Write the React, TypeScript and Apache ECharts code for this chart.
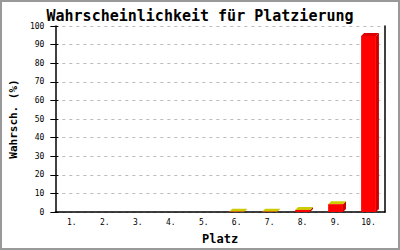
import React, { useEffect, useRef } from "react";
import * as echarts from "echarts";

const categories = ["1.", "2.", "3.", "4.", "5.", "6.", "7.", "8.", "9.", "10."];
const probabilities = [0, 0, 0, 0, 0, 0.2, 0.2, 1.1, 4.2, 94.6];
const yTicks = { min: 0, max: 100, interval: 10 };

const FONT = "DejaVu Sans Mono";

export default function App() {
  const ref = useRef<HTMLDivElement>(null);
  useEffect(() => {
    if (!ref.current) return;
    const chart = echarts.init(ref.current, null, { renderer: "svg" });
    const yBase = {
      type: "value",
      min: yTicks.min,
      max: yTicks.max,
      interval: yTicks.interval,
    };
    chart.setOption({
      animation: false,
      backgroundColor: "#fff",
      title: {
        text: "Wahrscheinlichkeit für Platzierung",
        left: "center",
        top: 3,
        textStyle: { fontFamily: FONT, fontWeight: "bold", fontSize: 15, color: "#000" },
      },
      grid: { left: 48, right: 15, top: 26, bottom: 37 },
      xAxis: {
        type: "category",
        data: categories,
        name: "Platz",
        nameLocation: "middle",
        nameGap: 21,
        nameTextStyle: { fontFamily: FONT, fontWeight: "bold", fontSize: 12, color: "#000" },
        axisLine: { lineStyle: { color: "#000", width: 1.5 } },
        axisTick: { show: false },
        axisLabel: { fontFamily: FONT, fontSize: 8, color: "#000", margin: 6 },
      },
      yAxis: [
        {
          ...yBase,
          name: "Wahrsch. (%)",
          nameLocation: "middle",
          nameGap: 31,
          nameTextStyle: { fontFamily: FONT, fontWeight: "bold", fontSize: 11, color: "#000" },
          axisLine: { show: true, lineStyle: { color: "#000", width: 1.5 } },
          axisTick: { show: true, length: 5, lineStyle: { color: "#000" } },
          axisLabel: { fontFamily: FONT, fontSize: 8, color: "#000", margin: 11 },
          splitLine: { show: true, lineStyle: { color: "#bbb", type: [3, 4], width: 1 } },
        },
        {
          ...yBase,
          position: "left",
          axisLine: { show: false },
          axisTick: { show: true, inside: true, length: 3, lineStyle: { color: "#000" } },
          axisLabel: { show: false },
          splitLine: { show: false },
        },
        {
          ...yBase,
          position: "right",
          axisLine: { show: true, lineStyle: { color: "#000", width: 1.5 } },
          axisTick: { show: false },
          axisLabel: { show: false },
          splitLine: { show: false },
        },
      ],
      graphic: [
        {
          type: "rect",
          shape: { x: 1, y: 1, width: 398, height: 248 },
          style: { fill: "none", stroke: "#999", lineWidth: 2 },
          silent: true,
        },
      ],
      series: [
        {
          type: "custom",
          data: probabilities.map((v, i) => [i, v]),
          encode: { x: 0, y: 1 },
          renderItem: (params: any, api: any) => {
            const idx = api.value(0);
            const v = api.value(1);
            if (!v) return null;
            const base = api.coord([idx, 0]);
            const top = api.coord([idx, v]);
            const bw = api.size([1, 0])[0] * 0.45;
            const x0 = base[0] - bw / 2;
            const x1 = base[0] + bw / 2;
            const d = 3;
            const topColor = v > 50 ? "#dd0000" : "#cccc00";
            return {
              type: "group",
              children: [
                {
                  type: "polygon",
                  shape: { points: [[x1, top[1]], [x1 + d, top[1] - d], [x1 + d, base[1] - d], [x1, base[1]]] },
                  style: { fill: "#c80000" },
                },
                {
                  type: "polygon",
                  shape: { points: [[x0, top[1]], [x0 + d, top[1] - d], [x1 + d, top[1] - d], [x1, top[1]]] },
                  style: { fill: topColor },
                },
                {
                  type: "rect",
                  shape: { x: x0, y: top[1], width: bw, height: base[1] - top[1] },
                  style: { fill: "#ff0000" },
                },
              ],
            };
          },
        },
      ],
    });
    return () => chart.dispose();
  }, []);
  return (
    <div
      ref={ref}
      style={{ position: "absolute", left: 0, top: 0, width: 400, height: 250 }}
    />
  );
}
